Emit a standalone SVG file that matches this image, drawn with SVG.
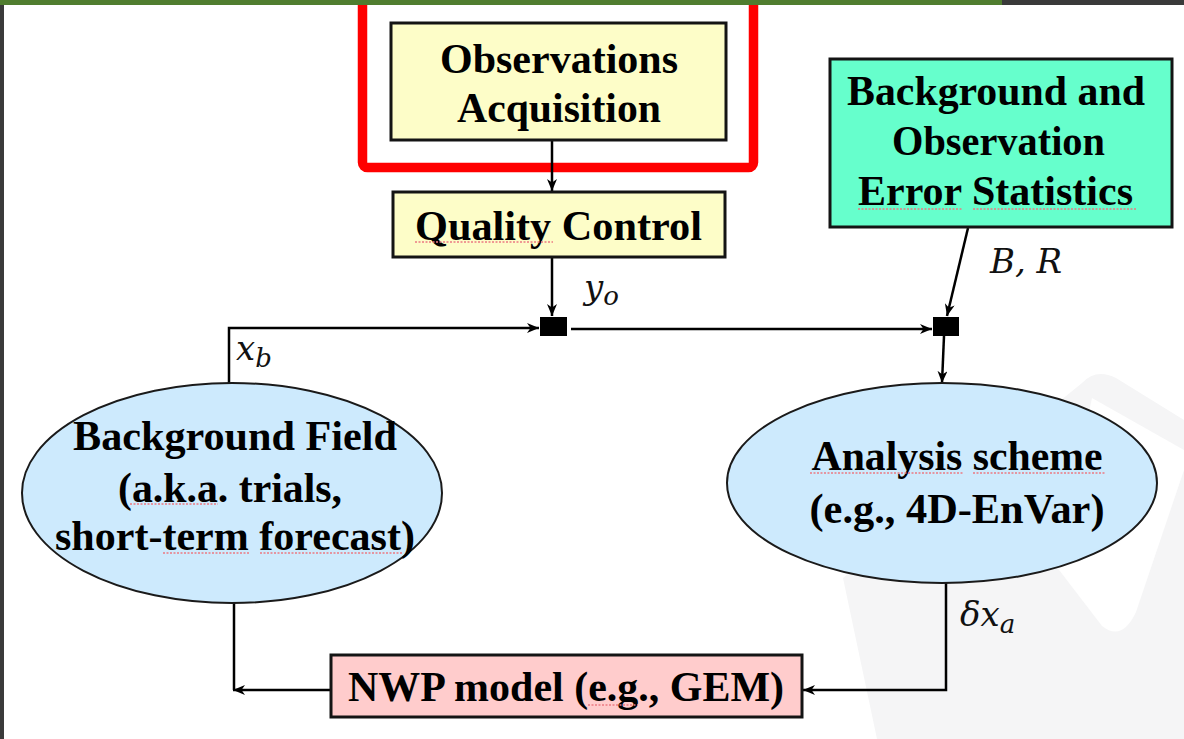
<svg xmlns="http://www.w3.org/2000/svg" width="1184" height="739" viewBox="0 0 1184 739">
  <defs>
    <style>
      .box { stroke: #141414; stroke-width: 3; }
      .oval { fill: #cdeafd; stroke: #1a1a1a; stroke-width: 2; }
      .lbl { font-family: "Liberation Serif", "Times New Roman", serif; font-weight: bold; font-size: 42px; fill: #000; text-anchor: middle; }
      .math { font-family: "DejaVu Serif", "Liberation Serif", serif; font-style: italic; font-size: 34px; fill: #111; }
      .sub { font-size: 26px; }
      .wire { fill: none; stroke: #000; stroke-width: 2.5; }
      .arr { marker-end: url(#head); }
      .jn { fill: #000; }
      .sq { stroke: #ec7a82; stroke-width: 1.3; stroke-dasharray: 2 1.5; fill: none; }
    </style>
    <marker id="head" markerUnits="userSpaceOnUse" markerWidth="12" markerHeight="10" refX="12" refY="5" orient="auto">
      <path d="M0,0 L12,5 L0,10 L3.5,5 Z" fill="#000"/>
    </marker>
  </defs>

  <!-- page -->
  <rect x="0" y="0" width="1184" height="739" fill="#ffffff"/>
  <!-- faint watermark in the lower right -->
  <path d="M1082,383 Q1096,368 1116,378 L1184,420 L1184,739 L877,739 L843,578 Z" fill="#f5f5f6"/>
  <path d="M1092,398 L1184,450 L1184,470 L1136,612 Q1122,642 1102,626 L1056,566 Z" fill="#ffffff"/>

  <!-- window chrome -->
  <rect x="0" y="0" width="4" height="739" fill="#3a3a3a"/>

  <!-- highlight frame -->
  <rect x="362.5" y="-4" width="391" height="171.5" rx="5" fill="#ffffff" stroke="#ff0000" stroke-width="9.5"/>

  <rect x="0" y="0" width="1002" height="5" fill="#507d2f"/>
  <rect x="1002" y="0" width="182" height="5" fill="#3a3a3a"/>

  <!-- connectors -->
  <g id="connectors">
    <path class="wire arr" d="M552,141 L552,191"/>
    <path class="wire arr" d="M552,258 L552,316"/>
    <path class="wire arr" d="M229,383 L229,328 L539,328"/>
    <path class="wire arr" d="M571,329 L932,329"/>
    <path class="wire arr" d="M968,228 L947,316"/>
    <path class="wire arr" d="M944,336 L942,383"/>
    <path class="wire arr" d="M946,583 L946,690 L803,690"/>
    <path class="wire" d="M234,603 L234,690"/>
    <path class="wire arr" d="M330,690 L233,690"/>
    <rect class="jn" x="540" y="317" width="27" height="19"/>
    <rect class="jn" x="933" y="317" width="26" height="19"/>
  </g>

  <!-- connector labels -->
  <g id="labels">
    <text class="math" x="584" y="299">y<tspan class="sub" dy="6">o</tspan></text>
    <text class="math" x="236" y="360">x<tspan class="sub" dy="7">b</tspan></text>
    <text class="math" x="990" y="273">B, R</text>
    <text class="math" x="960" y="626">δx<tspan class="sub" dy="7">a</tspan></text>
  </g>

  <g id="obs-acquisition">
    <rect class="box" x="391" y="23" width="335" height="117" fill="#fdfdc8"/>
    <text class="lbl" x="559" y="73" textLength="238" lengthAdjust="spacingAndGlyphs">Observations</text>
    <text class="lbl" x="559" y="122" textLength="204" lengthAdjust="spacingAndGlyphs">Acquisition</text>
  </g>

  <g id="quality-control">
    <rect class="box" x="393" y="192" width="332" height="65" fill="#fdfdc8"/>
    <text class="lbl" x="558.5" y="240" textLength="287" lengthAdjust="spacingAndGlyphs">Quality Control</text>
    <path class="sq" d="M415,242 H553"/>
  </g>

  <g id="error-statistics">
    <rect class="box" x="830" y="59" width="342" height="168" fill="#66ffcc"/>
    <text class="lbl" x="996" y="105" textLength="298" lengthAdjust="spacingAndGlyphs">Background and</text>
    <text class="lbl" x="998.5" y="155" textLength="213" lengthAdjust="spacingAndGlyphs">Observation</text>
    <text class="lbl" x="995.5" y="205" textLength="275" lengthAdjust="spacingAndGlyphs">Error Statistics</text>
    <path class="sq" d="M858,209 H963 M973,209 H1137"/>
  </g>

  <g id="background-field">
    <ellipse class="oval" cx="232" cy="493" rx="210" ry="110"/>
    <text class="lbl" x="235" y="450" textLength="324" lengthAdjust="spacingAndGlyphs">Background Field</text>
    <text class="lbl" x="230" y="502" textLength="224" lengthAdjust="spacingAndGlyphs">(a.k.a. trials,</text>
    <text class="lbl" x="235" y="550" textLength="360" lengthAdjust="spacingAndGlyphs">short-term forecast)</text>
    <path class="sq" d="M130,504 H218 M163,553 H250 M260,553 H402"/>
  </g>

  <g id="analysis-scheme">
    <ellipse class="oval" cx="942" cy="483" rx="215" ry="100"/>
    <text class="lbl" x="957" y="470" textLength="291" lengthAdjust="spacingAndGlyphs">Analysis scheme</text>
    <text class="lbl" x="957" y="523" textLength="295" lengthAdjust="spacingAndGlyphs">(e.g., 4D-EnVar)</text>
    <path class="sq" d="M810,473 H963 M973,473 H1105"/>
  </g>

  <g id="nwp-model">
    <rect class="box" x="331" y="655" width="471" height="62" fill="#ffcccc"/>
    <text class="lbl" x="566" y="701" font-size="45" textLength="436" lengthAdjust="spacingAndGlyphs">NWP model (e.g., GEM)</text>
    <path class="sq" d="M588,705 H638"/>
  </g>
</svg>
